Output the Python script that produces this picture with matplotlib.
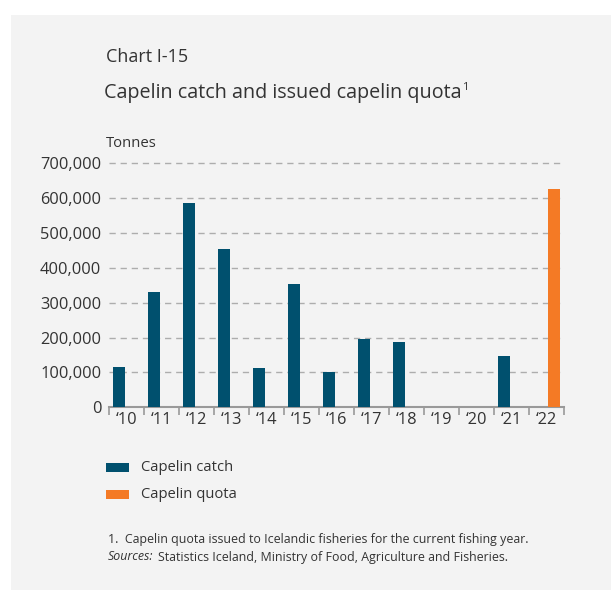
import numpy as np
import matplotlib
matplotlib.use("Agg")
from matplotlib import pyplot as plt
from matplotlib.patches import Rectangle
from matplotlib.ticker import FuncFormatter

plt.rcParams['font.family'] = ['Open Sans', 'DejaVu Sans']

years = ["‘10", "‘11", "‘12", "‘13", "‘14", "‘15", "‘16",
         "‘17", "‘18", "‘19", "‘20", "‘21", "‘22"]
catch = [116000, 331000, 586000, 454000, 113000, 354000, 101000,
         196000, 187000, 0, 0, 147000, 0]
quota = [0, 0, 0, 0, 0, 0, 0, 0, 0, 0, 0, 0, 626000]

c_catch = '#00506e'
c_quota = '#f47a25'
txt = '#333333'

W, H = 611, 590
fig = plt.figure(figsize=(W / 100, H / 100), dpi=100, facecolor='white')

# grey panel behind everything
fig.patches.append(Rectangle((11 / W, 0), 1, 1 - 15 / H, transform=fig.transFigure,
                             facecolor='#f3f3f3', edgecolor='none', zorder=-5))

fig.text(106 / W, 1 - 57 / H, "Chart I-15", fontsize=13, color=txt, va='center')
title = fig.text(104 / W, 1 - 93 / H, "Capelin catch and issued capelin quota",
                 fontsize=14.2, color=txt, va='center')
fig.text(106 / W, 1 - 143 / H, "Tonnes", fontsize=10.7, color=txt, va='center')

ytop = 710000
left, right = 109, 564
y0, y700 = 407.3, 163.3
ppt = (y0 - y700) / 700000
ax = fig.add_axes([left / W, 1 - y0 / H, (right - left) / W, ytop * ppt / H])
ax.set_facecolor('none')

x = np.arange(len(years))
bw = 0.343
off = 0.214
ax.bar(x - off, catch, bw, color=c_catch, label="Capelin catch", zorder=3)
ax.bar(x + off, quota, bw, color=c_quota, label="Capelin quota", zorder=3)

ax.set_xlim(-0.5, len(years) - 0.5)
ax.set_ylim(0, ytop)

ax.set_yticks(np.arange(0, 700001, 100000))
ax.yaxis.set_major_formatter(FuncFormatter(lambda v, p: f"{int(v):,}"))
ax.tick_params(axis='y', length=0, pad=5.5, labelsize=11.8, labelcolor=txt)
for yv in range(100000, 700001, 100000):
    ax.axhline(yv, color='#adadad', lw=1.0, dashes=(4.5, 3.5), zorder=1, clip_on=False)

ax.set_xticks(x)
ax.set_xticklabels(years)
ax.set_xticks(np.arange(-0.5, len(years)), minor=True)
ax.tick_params(axis='x', which='major', length=0, pad=3.5, labelsize=11.8, labelcolor=txt)
ax.tick_params(axis='x', which='minor', length=6, width=1.2, color='#999999', direction='out')

for s in ['top', 'right', 'left']:
    ax.spines[s].set_visible(False)
ax.spines['bottom'].set_color('#999999')
ax.spines['bottom'].set_linewidth(1.5)

# legend
for i, (lab, col) in enumerate([("Capelin catch", c_catch), ("Capelin quota", c_quota)]):
    yc = 467.5 + i * 27
    fig.patches.append(Rectangle((106 / W, 1 - (yc + 4.5) / H), 23 / W, 9 / H,
                                 transform=fig.transFigure, facecolor=col,
                                 edgecolor='none', zorder=2))
    fig.text(141 / W, 1 - yc / H, lab, fontsize=10.6, color=txt, va='center')

fig.text(108 / W, 1 - 539 / H,
         "1.  Capelin quota issued to Icelandic fisheries for the current fishing year.",
         fontsize=8.9, color=txt, va='center')
src = fig.text(108 / W, 1 - 557 / H, "Sources:", fontsize=8.9, color=txt,
               va='center', style='italic')
fig.canvas.draw()
bb = src.get_window_extent()
fig.text((bb.x1 + 4) / W, 1 - 557 / H,
         "Statistics Iceland, Ministry of Food, Agriculture and Fisheries.",
         fontsize=8.9, color=txt, va='center')

# footnote marker after the title
tb = title.get_window_extent()
fig.text((tb.x1 + 0.5) / W, 1 - 87 / H, "1", fontsize=8, color=txt, va='center')

fig.savefig("out.png", dpi=100, facecolor='white')
